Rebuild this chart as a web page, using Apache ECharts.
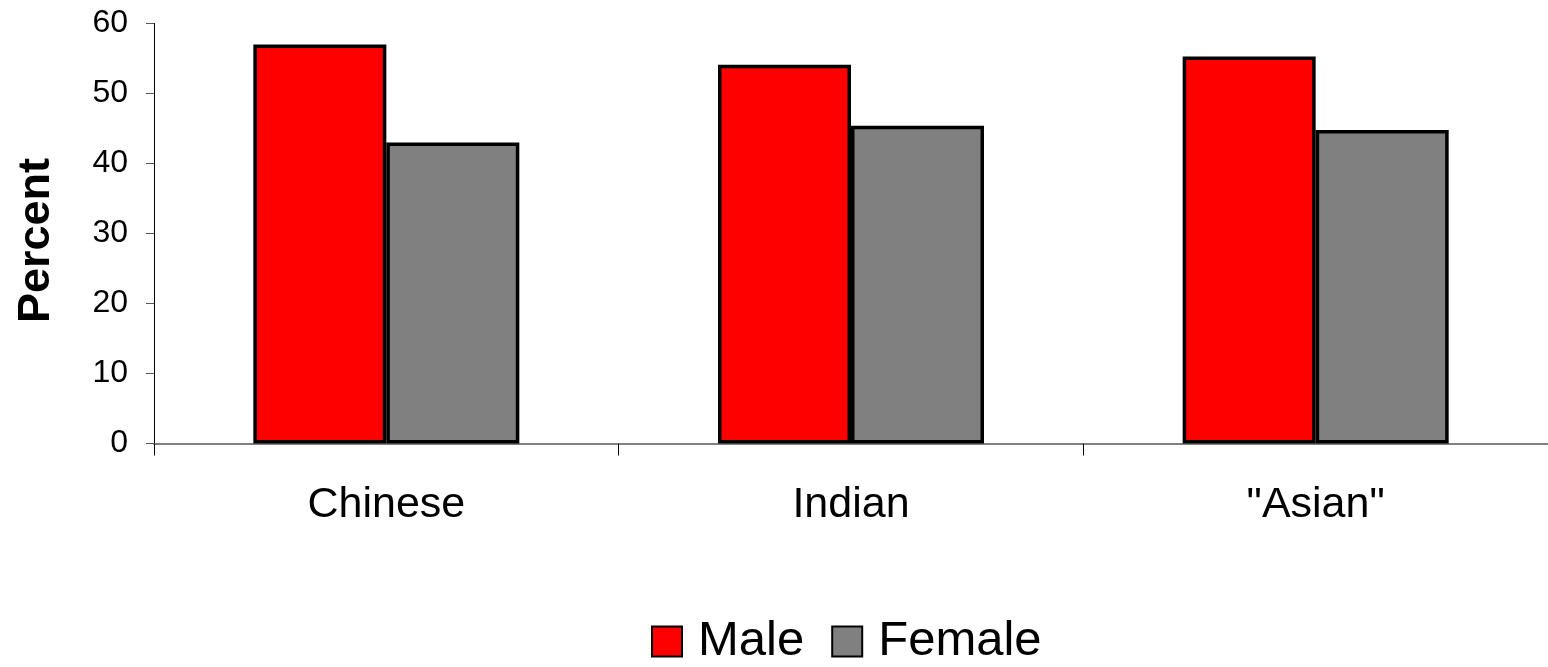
<!DOCTYPE html>
<html>
<head>
<meta charset="utf-8">
<script src="https://cdn.jsdelivr.net/npm/echarts@6/dist/echarts.min.js"></script>
<style>
html,body{margin:0;padding:0;background:#fff;}
#chart{width:1548px;height:667px;}
</style>
</head>
<body>
<div id="chart"></div>
<script>
const categories = ['Chinese', 'Indian', '"Asian"'];
const maleValues = [57.0, 54.1, 55.3];
const femaleValues = [43.0, 45.4, 44.8];
const yTicks = [0, 10, 20, 30, 40, 50, 60];

const chart = echarts.init(document.getElementById('chart'));
const font = '"Liberation Sans", Arial, sans-serif';
chart.setOption({
  animation: false,
  backgroundColor: '#ffffff',
  grid: { left: 154, right: 0, top: 23.5, bottom: 223.5, containLabel: false, outerBoundsMode: 'none' },
  legend: {
    data: ['Male', 'Female'],
    left: 646,
    top: 612,
    itemWidth: 30,
    itemHeight: 30,
    itemGap: 27,
    icon: 'rect',
    textStyle: { fontFamily: font, fontSize: 49, color: '#000', padding: [0, 0, 0, 11] }
  },
  xAxis: {
    type: 'category',
    data: categories,
    axisLine: { lineStyle: { color: '#808080', width: 2 } },
    axisTick: { show: true, length: 12, alignWithLabel: false, lineStyle: { color: '#000', width: 1 } },
    axisLabel: { fontFamily: font, fontSize: 43, color: '#000', margin: 40 },
    splitLine: { show: false }
  },
  yAxis: {
    type: 'value',
    min: yTicks[0],
    max: yTicks[yTicks.length - 1],
    interval: 10,
    name: 'Percent',
    nameLocation: 'middle',
    nameRotate: 90,
    nameGap: 95,
    nameTextStyle: { fontFamily: font, fontSize: 45, fontWeight: 'bold', color: '#000', padding: [0, 14, 0, 0] },
    axisLine: { show: true, lineStyle: { color: '#000', width: 1 } },
    axisTick: { show: true, length: 8, lineStyle: { color: '#555', width: 1 } },
    axisLabel: { fontFamily: font, fontSize: 32, color: '#000', margin: 26 },
    splitLine: { show: false }
  },
  series: [
    {
      name: 'Male', type: 'bar', data: maleValues,
      barWidth: 133, barGap: '0%',
      itemStyle: { color: '#ff0000', borderColor: '#000', borderWidth: 3.5 }
    },
    {
      name: 'Female', type: 'bar', data: femaleValues,
      barWidth: 133, barGap: '0%',
      itemStyle: { color: '#808080', borderColor: '#000', borderWidth: 3.5 }
    }
  ]
});
</script>
</body>
</html>
